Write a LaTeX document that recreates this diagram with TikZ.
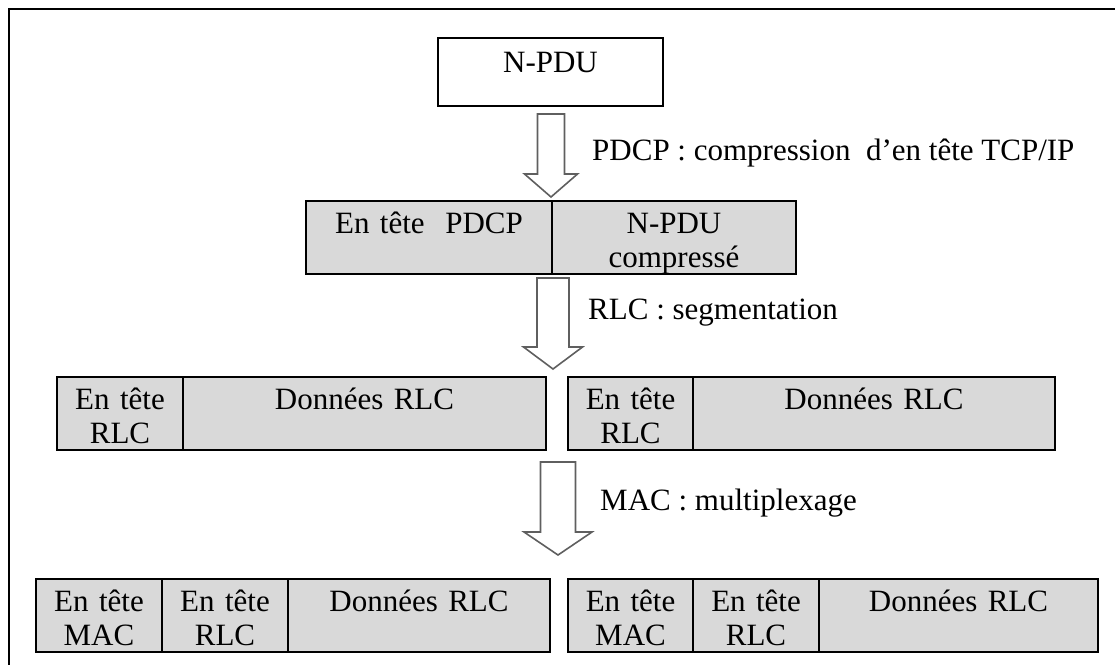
\documentclass[tikz,border=0pt]{standalone}
\usepackage{fontspec}
\setmainfont{Liberation Serif}
\usetikzlibrary{positioning,calc}

\definecolor{cellgray}{RGB}{217,217,217}
\definecolor{arrowgray}{RGB}{95,95,95}

\tikzset{
  cell/.style={draw=black, fill=cellgray, line width=1.6pt, inner sep=0pt, outer sep=0pt,
    text width=#1, align=center, text height=32pt, text depth=41pt},
  pdubox/.style={draw=black, line width=1.6pt, inner sep=0pt, outer sep=0pt,
    text width=#1, align=center, text height=34pt, text depth=34pt},
  hollow/.style={draw=arrowgray, fill=white, line width=1.6pt, line join=miter},
  steplabel/.style={anchor=base west, inner sep=0pt},
}

% hollow block arrow: top, tip, shaft half width, head half width, head length
\newcommand{\hollowarrow}[5]{%
  \draw[hollow] let \p1=(#1), \p2=(#2) in
    (\x2-#3,\y1) -- (\x2+#3,\y1) -- (\x2+#3,\y2+#5) -- (\x2+#4,\y2+#5)
    -- (\x2,\y2) -- (\x2-#4,\y2+#5) -- (\x2-#3,\y2+#5) -- cycle;}

\begin{document}
\begin{tikzpicture}[x=1pt, y=-1pt, font=\fontsize{31}{34}\selectfont]

  \useasboundingbox (0,0) rectangle (1115,665);
  \draw[line width=1.6pt] (1115,9) -- (9,9) -- (9,665);

  \node (npdu) [pdubox=225pt, anchor=north west] at (438,38) {N-PDU};

  \node (pdcph) [cell=246pt, anchor=north west] at (306,201) {En tête\ \ PDCP};
  \node (pdcpd) [cell=244pt, right=0pt of pdcph] {N-PDU\\compressé};

  \node (rlch1) [cell=126pt, anchor=north west] at (57,377) {En tête\\RLC};
  \node (rlcd1) [cell=363pt, right=0pt of rlch1] {Données RLC};
  \node (rlch2) [cell=125pt, anchor=north west] at (568,377) {En tête\\RLC};
  \node (rlcd2) [cell=362pt, right=0pt of rlch2] {Données RLC};

  \node (mach1) [cell=126pt, anchor=north west] at (36,579) {En tête\\MAC};
  \node (macr1) [cell=126pt, right=0pt of mach1] {En tête\\RLC};
  \node (macd1) [cell=262pt, right=0pt of macr1] {Données RLC};
  \node (mach2) [cell=125pt, anchor=north west] at (568,579) {En tête\\MAC};
  \node (macr2) [cell=126pt, right=0pt of mach2] {En tête\\RLC};
  \node (macd2) [cell=279pt, right=0pt of macr2] {Données RLC};

  % arrows between the layers
  \coordinate (a1) at ($(npdu.south)+(0.5,8)$);
  \coordinate (b1) at ($(pdcph.north east)+(-1,-4)$);
  \coordinate (a2) at ($(pdcph.south east)+(1,4)$);
  \coordinate (b2) at ($(rlch2.north west)+(-15,-8)$);
  \coordinate (a3) at ($(rlcd1.south east)+(12,12)$);
  \coordinate (b3) at ($(mach2.north west)+(-10,-24)$);

  \hollowarrow{a1}{b1}{13.5pt}{26.5pt}{23pt}
  \hollowarrow{a2}{b2}{16pt}{29.5pt}{22pt}
  \hollowarrow{a3}{b3}{17.5pt}{34pt}{23pt}

  \node (lbl1) [steplabel] at (592,160) {PDCP : compression\ \ d’en tête TCP/IP};
  \node (lbl2) [steplabel] at (588,319) {RLC : segmentation};
  \node (lbl3) [steplabel] at (600,510) {MAC : multiplexage};

\end{tikzpicture}
\end{document}
